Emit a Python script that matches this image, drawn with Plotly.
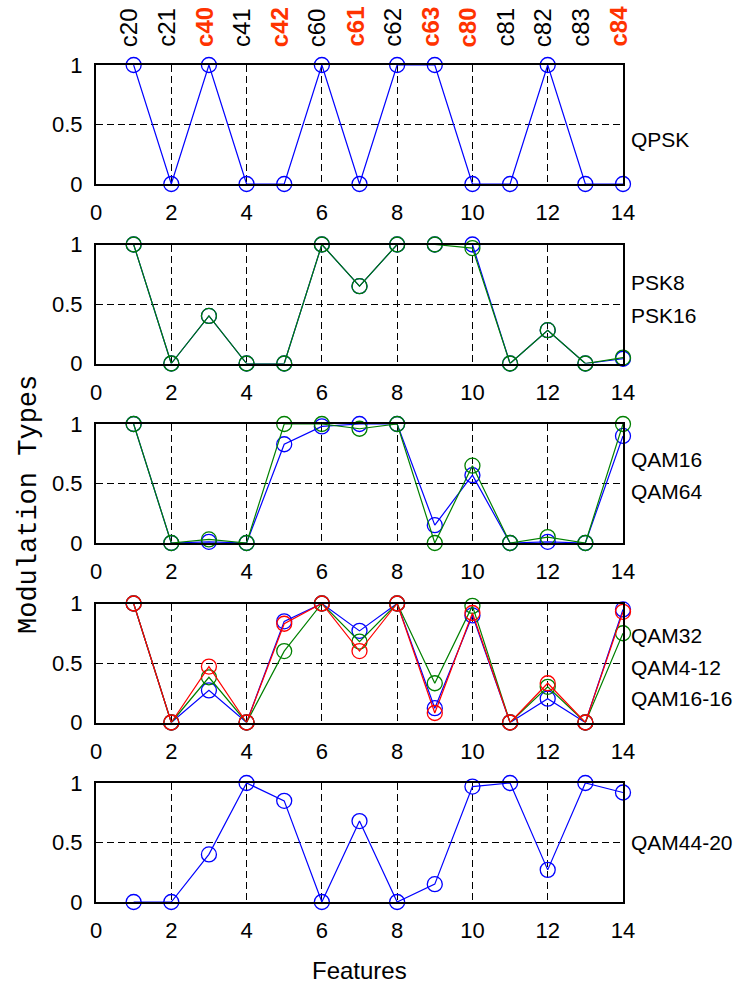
import plotly.graph_objects as go

# ---------------- data ----------------
features = list(range(1, 15))
feature_labels = ["c20", "c21", "c40", "c41", "c42", "c60", "c61",
                  "c62", "c63", "c80", "c81", "c82", "c83", "c84"]
feature_selected = [False, False, True, False, True, False, True,
                    False, True, True, False, False, False, True]

qpsk = [1, 0, 1, 0, 0, 1, 0, 1, 1, 0, 0, 1, 0, 0]

psk8 = [1, 0, 0.40, 0, 0, 1, 0.65, 1, 1, 1.00, 0, 0.28, 0, 0.04]
psk16 = [1, 0, 0.40, 0, 0, 1, 0.65, 1, 1, 0.97, 0, 0.28, 0, 0.05]

qam16 = [1, 0, 0.01, 0, 0.83, 0.98, 1.00, 1, 0.15, 0.57, 0, 0.01, 0, 0.90]
qam64 = [1, 0, 0.03, 0, 1.00, 1.00, 0.96, 1, 0.00, 0.65, 0, 0.05, 0, 1.00]

qam32 = [1, 0, 0.27, 0, 0.85, 1, 0.77, 1, 0.12, 0.90, 0, 0.20, 0, 0.95]
qam4_12 = [1, 0, 0.38, 0, 0.60, 1, 0.68, 1, 0.33, 0.98, 0, 0.30, 0, 0.75]
qam16_16 = [1, 0, 0.47, 0, 0.83, 1, 0.60, 1, 0.08, 0.92, 0, 0.33, 0, 0.93]

qam44_20 = [0, 0, 0.40, 1, 0.85, 0, 0.68, 0, 0.15, 0.97, 1, 0.27, 1, 0.92]

panels = [
    (["QPSK"], [qpsk], ["#0000ff"], [0.37]),
    (["PSK8", "PSK16"], [psk8, psk16], ["#0000ff", "#008000"], [0.68, 0.40]),
    (["QAM16", "QAM64"], [qam16, qam64], ["#0000ff", "#008000"], [0.70, 0.43]),
    (["QAM32", "QAM4-12", "QAM16-16"], [qam32, qam4_12, qam16_16],
     ["#0000ff", "#008000", "#ff0000"], [0.73, 0.46, 0.20]),
    (["QAM44-20"], [qam44_20], ["#0000ff"], [0.50]),
]

x_ticks = [0, 2, 4, 6, 8, 10, 12, 14]
y_ticks = [0, 0.5, 1]
y_tick_text = ["0", "0.5", "1"]

SANS = "Liberation Sans, Arial, sans-serif"

# ---------------- layout geometry (pixels) ----------------
W, H = 749, 987
top_px, bot_px = 65, 903
panel_h = 119
step = 179.5
span = bot_px - top_px

fig = go.Figure()
annotations = []

for k, (names, series, colors, label_y) in enumerate(panels):
    idx = k + 1
    xa = "x" if idx == 1 else f"x{idx}"
    ya = "y" if idx == 1 else f"y{idx}"
    for name, vals, col in zip(names, series, colors):
        fig.add_trace(go.Scatter(
            x=features, y=vals, name=name, mode="lines+markers",
            line=dict(color=col, width=1.2),
            marker=dict(symbol="circle-open", size=15, color=col,
                        line=dict(width=1.3, color=col)),
            xaxis=xa, yaxis=ya, cliponaxis=False, showlegend=False,
        ))
    t = top_px + k * step
    b = t + panel_h
    dom = [(bot_px - b) / span, (bot_px - t) / span]
    axis_common = dict(
        showline=True, mirror=True, linecolor="black", linewidth=2,
        showgrid=True, gridcolor="black", gridwidth=1, griddash="7px,4px",
        zeroline=False, ticks="", fixedrange=True,
        tickfont=dict(family=SANS, size=22, color="black"),
    )
    fig.update_layout(**{
        ("xaxis" if idx == 1 else f"xaxis{idx}"): dict(
            axis_common, range=[0, 14], tickvals=x_ticks,
            anchor=ya, ticklabelstandoff=8,
            domain=[0, 1],
        ),
        ("yaxis" if idx == 1 else f"yaxis{idx}"): dict(
            axis_common, range=[0, 1], tickvals=y_ticks, ticktext=y_tick_text,
            anchor=xa, domain=dom, ticklabelstandoff=7,
        ),
    })
    for name, ly in zip(names, label_y):
        annotations.append(dict(
            text=name, xref="paper", x=1, xanchor="left", xshift=6,
            yref=ya, y=ly, yanchor="middle", showarrow=False,
            font=dict(family=SANS, size=21, color="black"),
        ))

# feature names along the top
for fx, lab, sel in zip(features, feature_labels, feature_selected):
    annotations.append(dict(
        text=f"<b>{lab}</b>" if sel else lab,
        xref="x", x=fx, xshift=-5, yref="y", y=1, yshift=16,
        xanchor="center", yanchor="bottom", textangle=-90, showarrow=False,
        font=dict(family=SANS, size=24,
                  color="#ff3300" if sel else "black"),
    ))

annotations.append(dict(
    text="Modulation Types", xref="paper", x=0, xshift=-67, xanchor="center",
    yref="paper", y=(bot_px - 505) / span, yanchor="middle",
    textangle=-90, showarrow=False,
    font=dict(family="Liberation Mono, DejaVu Sans Mono, monospace", size=27,
              color="black"),
))
annotations.append(dict(
    text="Features", xref="paper", x=0.5, xanchor="center",
    yref="paper", y=0, yshift=-52, yanchor="top", showarrow=False,
    font=dict(family=SANS, size=24, color="black"),
))

fig.update_layout(
    width=W, height=H,
    margin=dict(l=96, r=W - 623, t=top_px, b=H - bot_px, pad=0),
    paper_bgcolor="white", plot_bgcolor="white",
    annotations=annotations, showlegend=False,
)

fig.write_html("out.html", config={"displayModeBar": False})
